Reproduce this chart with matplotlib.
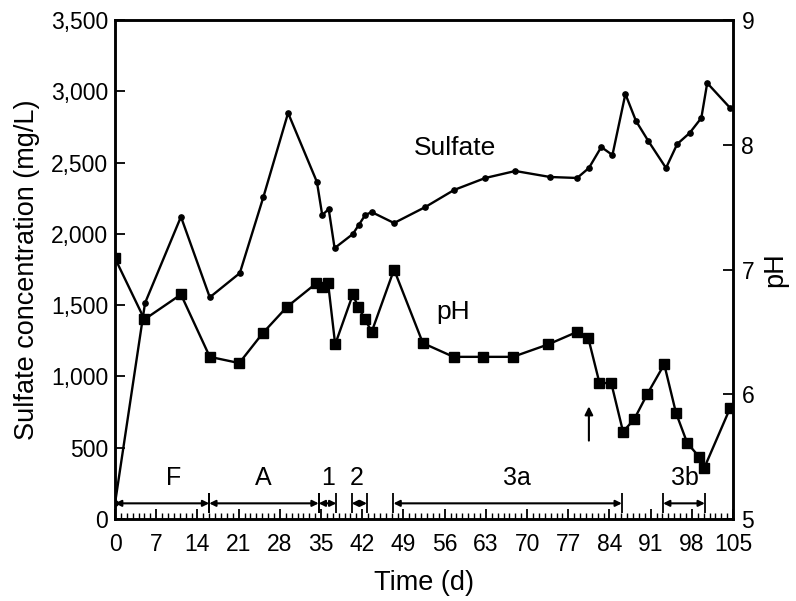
import numpy as np
import matplotlib
matplotlib.use("Agg")
import matplotlib.pyplot as plt

plt.rcParams.update({
    "font.family": ["Liberation Sans", "DejaVu Sans"],
    "font.size": 16.5,
    "axes.linewidth": 1.8,
})

# sulfate (mg/L) vs day
sulf_day = [0, 5.1, 11.2, 16.1, 21.2, 25.2, 29.4, 34.3, 35.2, 36.3, 37.3,
            40.4, 41.4, 42.5, 43.6, 47.4, 52.7, 57.6, 62.9, 68.0, 73.9,
            78.5, 80.5, 82.6, 84.5, 86.7, 88.5, 90.6, 93.6, 95.5, 97.6,
            99.6, 100.6, 104.5]
sulfate = [110, 1515, 2120, 1555, 1725, 2258, 2848, 2364, 2132, 2174, 1900,
           1999, 2062, 2132, 2153, 2076, 2188, 2308, 2392, 2441, 2399,
           2392, 2462, 2609, 2553, 2981, 2792, 2651, 2462, 2630, 2707,
           2813, 3058, 2883]

# pH vs day
ph_day = [0, 5.0, 11.2, 16.1, 21.1, 25.1, 29.2, 34.2, 35.2, 36.2, 37.4,
          40.4, 41.3, 42.5, 43.6, 47.4, 52.3, 57.5, 62.5, 67.6, 73.6,
          78.5, 80.4, 82.3, 84.3, 86.3, 88.2, 90.4, 93.3, 95.3, 97.2,
          99.2, 100.1, 104.5]
ph = [7.09, 6.60, 6.80, 6.30, 6.25, 6.49, 6.70, 6.89, 6.86, 6.89, 6.40,
      6.80, 6.70, 6.60, 6.50, 7.00, 6.41, 6.30, 6.30, 6.30, 6.40,
      6.50, 6.45, 6.09, 6.09, 5.70, 5.80, 6.00, 6.24, 5.85, 5.61,
      5.50, 5.41, 5.89]

# operating phases
phase_names = ["F", "A", "1", "2", "3a", "3b"]
phase_start = [0, 16.0, 34.6, 40.2, 47.3, 93.1]
phase_end = [16.0, 34.6, 37.6, 42.8, 86.1, 100.2]
phase_label_x = [9.9, 25.1, 36.2, 41.1, 68.3, 96.8]
PHASE_Y = 110
LABEL_Y = 285

fig = plt.figure(figsize=(7.96, 6.01), dpi=100)
ax = fig.add_axes([0.1445, 0.1364, 0.7765, 0.8303])
ax2 = ax.twinx()

ax.plot(sulf_day, sulfate, color="black", lw=1.7, marker="o", ms=3.8,
        zorder=3)
ax2.plot(ph_day, ph, color="black", lw=1.7, marker="s", ms=7, zorder=3)

ax.set_xlim(0, 105)
ax.set_ylim(0, 3500)
ax2.set_ylim(5, 9)

ax.set_xticks(np.arange(0, 106, 7))
ax.set_xticks(np.arange(0, 106, 1), minor=True)
ax.set_yticks(np.arange(0, 3501, 500))
ax.set_yticklabels([f"{v:,}" for v in range(0, 3501, 500)])
ax2.set_yticks([5, 6, 7, 8, 9])

ax.tick_params(axis="x", which="major", direction="in", length=7, width=1.3,
               pad=10)
ax.tick_params(axis="x", which="minor", direction="in", length=4, width=1.0)
ax.tick_params(axis="y", direction="in", length=7, width=1.3, pad=5)
ax2.tick_params(axis="y", direction="in", length=7, width=1.3, pad=6)

ax.set_xlabel("Time (d)", fontsize=19.5, labelpad=10)
ax.set_ylabel("Sulfate concentration (mg/L)", fontsize=19.5, labelpad=8)
ax2.set_ylabel("pH", fontsize=19.5, labelpad=6)

# phase arrows with end bars
for name, s, e, lx in zip(phase_names, phase_start, phase_end, phase_label_x):
    ax.annotate("", xy=(e, PHASE_Y), xytext=(s, PHASE_Y),
                arrowprops=dict(arrowstyle="<|-|>", color="black", lw=1.5,
                                shrinkA=0, shrinkB=0, mutation_scale=9))
    ax.vlines([s, e], PHASE_Y - 70, PHASE_Y + 70, color="black", lw=1.3)
    ax.text(lx, LABEL_Y, name, ha="center", va="center", fontsize=18)

# event marker
ax.annotate("", xy=(80.5, 790), xytext=(80.5, 550),
            arrowprops=dict(arrowstyle="-|>", color="black", lw=1.5,
                            mutation_scale=12, shrinkA=0, shrinkB=0))

ax.text(57.8, 2600, "Sulfate", ha="center", va="center", fontsize=19)
ax.text(57.4, 1450, "pH", ha="center", va="center", fontsize=19)

fig.savefig("out.png", dpi=100)
